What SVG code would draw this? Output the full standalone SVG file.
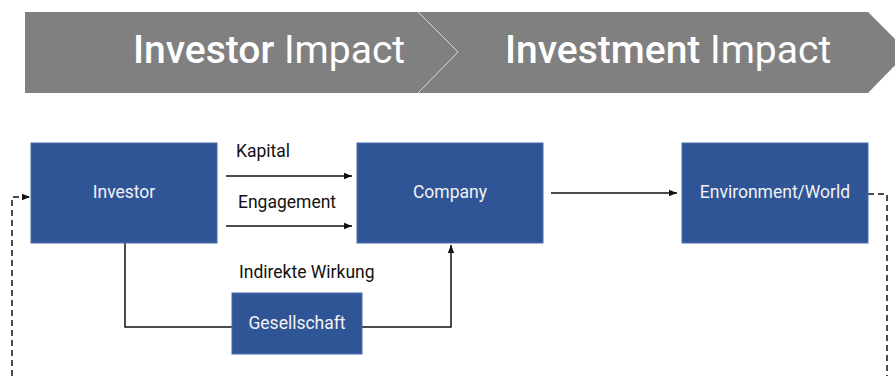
<svg xmlns="http://www.w3.org/2000/svg" width="895" height="378" viewBox="0 0 895 378">
  <style>
    .banner { fill: #808080; }
    .sep { fill: none; stroke: #d9d9d9; stroke-width: 1; }
    .title { font-family: Roboto, "Liberation Sans", sans-serif; font-size: 39px; fill: #ffffff; }
    .box { fill: #2f5597; stroke: #4a6fae; stroke-width: 1; }
    .boxtext { font-family: Roboto, "Liberation Sans", sans-serif; font-size: 17.5px; fill: #f2f2f2; text-anchor: middle; dominant-baseline: central; }
    .label { font-family: Roboto, "Liberation Sans", sans-serif; font-size: 17.5px; fill: #111111; }
    .line { fill: none; stroke: #111111; stroke-width: 1.5; }
    .dash { fill: none; stroke: #111111; stroke-width: 1.5; stroke-dasharray: 6 4; }
  </style>
  <defs>
    <marker id="arrow" viewBox="0 0 8 8" refX="8" refY="4" markerWidth="8" markerHeight="8" markerUnits="userSpaceOnUse" orient="auto">
      <path d="M0,0.8 L8,4 L0,7.2 Z" fill="#111111"/>
    </marker>
  </defs>

  <!-- header banner -->
  <g id="banner">
    <path class="banner" d="M25,12 H868 L908,52 L868,93 H25 Z"/>
    <path class="sep" d="M418,12 L458,52 L418,93"/>
    <text class="title" x="133" y="63"><tspan font-weight="500">Investor</tspan> Impact</text>
    <text class="title" x="505" y="63"><tspan font-weight="500">Investment</tspan> Impact</text>
  </g>

  <!-- connectors -->
  <g id="connectors">
    <line class="line" x1="226" y1="176" x2="352" y2="176" marker-end="url(#arrow)"/>
    <line class="line" x1="226" y1="226" x2="352" y2="226" marker-end="url(#arrow)"/>
    <line class="line" x1="551" y1="193" x2="677" y2="193" marker-end="url(#arrow)"/>
    <polyline class="line" points="125,243 125,327 232,327"/>
    <polyline class="line" points="362,327 451,327 451,245" marker-end="url(#arrow)"/>
    <polyline class="dash" points="868,194 887,194 887,376"/>
    <polyline class="dash" points="12,376 12,197 30,197" marker-end="url(#arrow)"/>
    <text class="label" x="236" y="157">Kapital</text>
    <text class="label" x="238" y="208">Engagement</text>
    <text class="label" x="239" y="278">Indirekte Wirkung</text>
  </g>

  <!-- nodes -->
  <g id="investor">
    <rect class="box" x="31" y="143" width="186" height="100"/>
    <text class="boxtext" x="124" y="192">Investor</text>
  </g>
  <g id="company">
    <rect class="box" x="357" y="143" width="186" height="100"/>
    <text class="boxtext" x="450" y="192">Company</text>
  </g>
  <g id="environment">
    <rect class="box" x="682" y="143" width="186" height="100"/>
    <text class="boxtext" x="775" y="192">Environment/World</text>
  </g>
  <g id="gesellschaft">
    <rect class="box" x="232" y="293" width="130" height="61"/>
    <text class="boxtext" x="297" y="323">Gesellschaft</text>
  </g>
</svg>
